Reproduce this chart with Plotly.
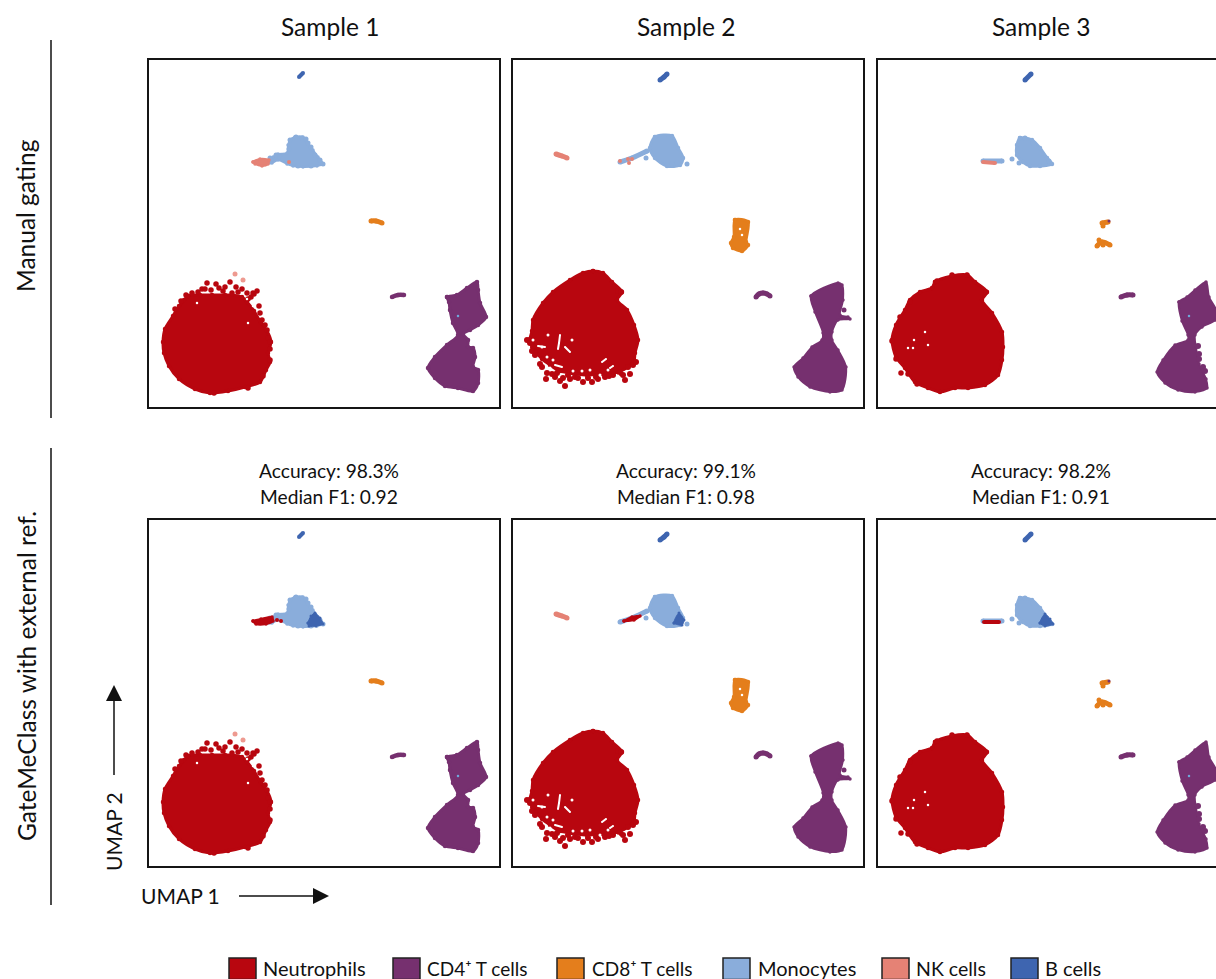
import plotly.graph_objects as go

W, H = 1216, 979
FONT = "Lato"

SAMPLES = ["Sample 1", "Sample 2", "Sample 3"]
ROW_LABELS = ["Manual gating", "GateMeClass with external ref."]
ACCURACY = ["Accuracy: 98.3%", "Accuracy: 99.1%", "Accuracy: 98.2%"]
MEDIAN_F1 = ["Median F1: 0.92", "Median F1: 0.98", "Median F1: 0.91"]
CELL_TYPES = ["Neutrophils", "CD4\u207a T cells", "CD8\u207a T cells", "Monocytes", "NK cells", "B cells"]
COLORS = ["#B8060F", "#76306F", "#E47E1C", "#8AADDB", "#E58275", "#3E65B0"]
NEUT, CD4, CD8, MONO, NK, BC = COLORS

# ---------- Sample 1 ----------
S1_NEUT = [(40,237),(52,236),(64,236),(77,236),(94,238),(99,243),(106,252),(113,264),(119,272),(123,283),(120,294),(122,303),(118,311),(112,323),(97,328),(80,332),(62,334),(47,330),(31,320),(21,307),(16,294),(15,283),(17,270),(25,257),(31,247),(36,241)]
S1_NEUT_DOTS = [(59,224),(54,230),(57,230),(68,225),(71,229),(82,223),(77,228),(88,228),(94,230),(84,234),(99,234),(105,234),(109,232),(112,254),(114,261),(50,233),(44,234),(122,301),(120,279),(119,271),(100,240),(103,238),(106,235),(75,232),(63,231),(90,233),(38,236),(33,242),(27,250),(111,247),(117,266),(122,290),(122,283),(115,317),(100,329),(66,334)]
S1_NEUT_HOLES = [(49,244),(100,264),(99,240),(105,247)]
S1_NK_PALE = [(87,215),(95,221)]
S1_CD4 = [(299,238),(309,236),(319,229),(329,223),(330,231),(332,244),(338,258),(330,266),(322,271),(315,275),(320,281),(320,288),(325,289),(327,298),(325,308),(330,311),(330,324),(325,332),(310,329),(297,327),(287,319),(280,309),(287,298),(299,286),(310,276),(305,264),(302,251),(301,243)]
S1_CD4_SMALL = [(244,238),(250,236),(256,236)]
S1_MONO = [(147,78),(155,78),(160,84),(165,91),(170,98),(175,105),(169,107),(155,108),(145,107),(139,105),(130,101),(124,104),(119,104),(125,98),(130,95),(139,94),(140,86),(142,81)]
S1_MONO_DOTS = [(142,81),(148,78),(154,79),(158,80),(160,84),(163,88),(167,96),(172,101),(175,105),(122,99),(128,96),(132,98),(135,100),(141,90),(150,107),(163,107)]
S1_NK = [(105,103),(112,100),(121,101),(120,105),(114,107),(107,105)]
S1_NK_DOT = [(141,103)]
S1_BC = [(151,18),(155,14)]
S1_CD8 = [(223,162),(228,162),(234,164)]
S1_B_RED = [(105,102),(113,100),(124,98),(125,102),(118,105),(108,105)]
S1_B_RED_DOTS = [(133,102),(129,101)]
S1_B_PATCH = [(160,104),(163,97),(167,94),(172,99),(175,105),(168,107),(161,107)]

# ---------- Sample 2 ----------
S2_NEUT = [(81,212),(91,214),(100,223),(110,233),(105,241),(115,251),(122,266),(126,281),(123,294),(122,302),(116,308),(106,313),(90,315),(75,316),(60,314),(48,312),(38,306),(30,300),(24,293),(20,285),(18,280),(20,272),(21,261),(31,244),(41,233),(58,221),(71,214)]
S2_NEUT_DOTS = [(15,281),(18,284),(21,288),(20,292),(23,296),(28,305),(35,314),(40,315),(34,320),(43,318),(48,322),(53,327),(51,319),(58,320),(63,318),(71,323),(80,323),(86,320),(93,318),(101,316),(113,321),(118,315),(121,306),(124,303),(116,308),(111,316),(106,232),(109,233),(30,308),(45,314),(56,316),(66,319),(76,319),(84,318),(97,317),(108,314)]
S2_NEUT_HOLES = [(30,288),(36,276),(60,281),(21,281),(35,298),(41,301),(70,312),(78,311),(96,311),(61,312),(38,309),(88,316),(106,317)]
S2_GAP_A = [(48,276),(47,284),(46,290)]
S2_GAP_B = [(26,287),(33,288)]
S2_GAP_C = [(53,288),(58,293)]
S2_GAP_D = [(43,306),(50,308)]
S2_GAP_E = [(90,303),(94,300)]
S2_GAP_F = [(98,309),(101,307)]
S2_CD4 = [(299,237),(326,224),(330,226),(331,241),(328,256),(336,258),(338,260),(326,261),(320,273),(320,281),(326,291),(334,308),(330,331),(318,333),(298,328),(286,318),(282,308),(291,299),(300,288),(310,281),(311,274),(303,253)]
S2_CD4_DOTS = [(332,251)]
S2_CD4_SMALL = [(244,238),(247,235),(251,234),(255,235),(258,237)]
S2_MONO = [(143,78),(160,77),(166,89),(171,99),(168,106),(155,107),(143,99),(138,89)]
S2_MONO_TAIL = [(108,103),(120,99),(135,92)]
S2_MONO_DOTS = [(175,105),(134,99),(165,104),(160,105),(155,106)]
S2_NK = [(44,95),(50,97),(55,99)]
S2_NK_DOTS = [(108,102),(117,104),(116,100),(120,100)]
S2_BC = [(148,21),(152,18),(155,15)]
S2_CD8 = [(223,161),(236,163),(234,183),(236,186),(230,192),(221,189),(219,184),(222,178)]
S2_CD8_HOLES = [(228,170),(230,176)]
S2_B_RED = [(112,102),(120,98),(128,97),(122,101)]
S2_B_PATCH = [(162,104),(167,94),(172,101),(170,106)]

# ---------- Sample 3 ----------
S3_NEUT = [(58,223),(75,217),(90,216),(98,223),(110,233),(105,241),(115,254),(125,273),(126,288),(125,301),(121,316),(108,326),(91,329),(78,329),(63,333),(51,329),(38,323),(28,309),(19,298),(15,281),(19,266),(28,251),(33,241),(43,233),(55,229)]
S3_NEUT_DOTS = [(24,314),(15,282),(90,216),(109,233),(75,216),(60,222),(33,243),(23,258),(19,300),(31,315),(40,325)]
S3_NEUT_HOLES = [(48,273),(37,281),(36,289),(51,286),(31,289)]
S3_CD4 = [(302,243),(310,238),(318,231),(329,223),(332,238),(339,251),(338,261),(325,268),(318,276),(319,289),(322,305),(329,320),(330,329),(318,333),(301,331),(288,324),(280,313),(286,301),(298,286),(311,281),(311,276),(305,262)]
S3_CD4_DOTS = [(321,287),(322,295),(322,300),(326,308),(328,312)]
S3_CD4_SMALL = [(244,238),(250,236),(256,236)]
S3_MONO = [(143,79),(155,81),(163,89),(170,99),(175,105),(163,107),(153,107),(146,103),(140,96),(140,86)]
S3_MONO_TAIL = [(106,102),(125,102)]
S3_MONO_DOTS = [(135,100),(142,104),(148,79),(156,84),(172,102)]
S3_NK = [(106,103),(118,104)]
S3_BC = [(148,21),(154,15)]
S3_CD8_UP = [(225,164),(231,163)]
S3_CD8_UP_DOTS = [(226,167)]
S3_CD8_LOW = [(220,187),(225,183),(233,186)]
S3_CD8_LOW_DOTS = [(222,181),(226,186)]
S3_CD4_IN_CD8 = [(232,162)]
S3_B_RED = [(107,103),(122,103)]
S3_B_PATCH = [(163,104),(168,95),(173,100),(176,105),(168,107)]
CD4_MONO_DOT_S1 = [(310,257)]
CD4_MONO_DOT_S3 = [(312,257)]

# ---------- panel frames in pixels ----------
PANELS_X = [(148, 500), (512, 864), (877, 1216)]
PANELS_Y = [(59, 408), (519, 867)]

fig = go.Figure()


def poly(ax, pts, color, width=3):
    xs = [p[0] for p in pts] + [pts[0][0]]
    ys = [p[1] for p in pts] + [pts[0][1]]
    fig.add_trace(go.Scatter(x=xs, y=ys, xaxis=f"x{ax}", yaxis=f"y{ax}", mode="lines+markers", fill="toself",
                             fillcolor=color, line=dict(color=color, width=width, shape="spline", smoothing=0.8),
                             marker=dict(color=color, size=max(width + 1.5, 3), line=dict(width=0)),
                             hoverinfo="skip"))


def dots(ax, pts, color, size=5.5):
    fig.add_trace(go.Scatter(x=[p[0] for p in pts], y=[p[1] for p in pts], xaxis=f"x{ax}", yaxis=f"y{ax}",
                             mode="markers", marker=dict(color=color, size=size, line=dict(width=0)), hoverinfo="skip"))


def stroke(ax, pts, color, width=5):
    fig.add_trace(go.Scatter(x=[p[0] for p in pts], y=[p[1] for p in pts], xaxis=f"x{ax}", yaxis=f"y{ax}",
                             mode="lines+markers", line=dict(color=color, width=width, shape="spline"),
                             marker=dict(color=color, size=width, line=dict(width=0)), hoverinfo="skip"))


for row in range(2):
    # Sample 1
    ax = row * 3 + 1
    poly(ax, S1_NEUT, NEUT)
    dots(ax, S1_NEUT_DOTS, NEUT)
    dots(ax, S1_NEUT_HOLES, "white", 2.5)
    dots(ax, S1_NK_PALE, "#EE9A90", 5)
    poly(ax, S1_CD4, CD4)
    stroke(ax, S1_CD4_SMALL, CD4, 4.5)
    poly(ax, S1_MONO, MONO, 2)
    dots(ax, S1_MONO_DOTS, MONO, 5)
    stroke(ax, S1_CD8, CD8, 5)
    stroke(ax, S1_BC, BC, 4)
    dots(ax, CD4_MONO_DOT_S1, "#6FA8DC", 2.5)
    if row == 0:
        poly(ax, S1_NK, NK, 2)
        dots(ax, S1_NK_DOT, NK, 4)
    else:
        poly(ax, S1_B_RED, NEUT, 2)
        dots(ax, S1_B_RED_DOTS, NEUT, 4)
        poly(ax, S1_B_PATCH, BC, 1)

    # Sample 2
    ax = row * 3 + 2
    poly(ax, S2_NEUT, NEUT)
    dots(ax, S2_NEUT_DOTS, NEUT, 6)
    dots(ax, S2_NEUT_HOLES, "white", 3)
    for gap in (S2_GAP_A, S2_GAP_B, S2_GAP_C, S2_GAP_D, S2_GAP_E, S2_GAP_F):
        stroke(ax, gap, "white", 2)
    poly(ax, S2_CD4, CD4, 2)
    dots(ax, S2_CD4_DOTS, CD4, 5)
    stroke(ax, S2_CD4_SMALL, CD4, 5)
    poly(ax, S2_MONO, MONO)
    stroke(ax, S2_MONO_TAIL, MONO, 5)
    dots(ax, S2_MONO_DOTS, MONO, 5)
    stroke(ax, S2_NK, NK, 5)
    stroke(ax, S2_BC, BC, 5)
    poly(ax, S2_CD8, CD8)
    dots(ax, S2_CD8_HOLES, "white", 2.5)
    if row == 0:
        dots(ax, S2_NK_DOTS, NK, 4)
    else:
        poly(ax, S2_B_RED, NEUT, 2)
        poly(ax, S2_B_PATCH, BC, 1)

    # Sample 3
    ax = row * 3 + 3
    poly(ax, S3_NEUT, NEUT)
    dots(ax, S3_NEUT_DOTS, NEUT)
    dots(ax, S3_NEUT_HOLES, "white", 2.5)
    poly(ax, S3_CD4, CD4, 2)
    dots(ax, S3_CD4_DOTS, CD4, 6)
    stroke(ax, S3_CD4_SMALL, CD4, 5)
    poly(ax, S3_MONO, MONO)
    stroke(ax, S3_MONO_TAIL, MONO, 5)
    dots(ax, S3_MONO_DOTS, MONO, 5)
    stroke(ax, S3_BC, BC, 5)
    stroke(ax, S3_CD8_UP, CD8, 5)
    dots(ax, S3_CD8_UP_DOTS, CD8, 5)
    stroke(ax, S3_CD8_LOW, CD8, 5)
    dots(ax, S3_CD8_LOW_DOTS, CD8, 5)
    dots(ax, S3_CD4_IN_CD8, CD4, 3)
    dots(ax, CD4_MONO_DOT_S3, "#6FA8DC", 2.5)
    if row == 0:
        stroke(ax, S3_NK, NK, 4)
    else:
        stroke(ax, S3_B_RED, NEUT, 4)
        poly(ax, S3_B_PATCH, BC, 1)

layout = dict(
    width=W, height=H, margin=dict(l=0, r=0, t=0, b=0), autosize=False,
    paper_bgcolor="white", plot_bgcolor="white", showlegend=False,
    font=dict(family=FONT, color="#111111"),
)
AX_COMMON = dict(showgrid=False, zeroline=False, showticklabels=False, ticks="", showline=True,
                 linecolor="#151515", linewidth=2)
for r, (top, bottom) in enumerate(PANELS_Y):
    for c, (left, right) in enumerate(PANELS_X):
        n = r * 3 + c + 1
        inner_r = right - 1 if c < 2 else right
        layout[f"xaxis{n}"] = dict(domain=[(left + 1) / W, inner_r / W], range=[1, inner_r - left], mirror=True,
                                   anchor=f"y{n}", **AX_COMMON)
        layout[f"yaxis{n}"] = dict(domain=[1 - (bottom - 1) / H, 1 - (top + 1) / H], range=[bottom - top - 1, 1],
                                   mirror=(c < 2), anchor=f"x{n}", **AX_COMMON)
fig.update_layout(**layout)


def px(x):
    return x / W


def py(y):
    return 1 - y / H


def text(x, y, s, size, angle=0, xanchor="center", yanchor="middle"):
    fig.add_annotation(x=px(x), y=py(y), xref="paper", yref="paper", text=s, showarrow=False, textangle=angle,
                       font=dict(size=size, family=FONT, color="#111111"), xanchor=xanchor, yanchor=yanchor,
                       align="center")


def line(x0, y0, x1, y1, width=1.5):
    fig.add_shape(type="line", xref="paper", yref="paper", x0=px(x0), y0=py(y0), x1=px(x1), y1=py(y1),
                  line=dict(color="#111111", width=width))


def tri(p1, p2, p3):
    path = f"M {px(p1[0])} {py(p1[1])} L {px(p2[0])} {py(p2[1])} L {px(p3[0])} {py(p3[1])} Z"
    fig.add_shape(type="path", xref="paper", yref="paper", path=path, fillcolor="#111111", line=dict(width=0))


for s, cx in zip(SAMPLES, [330, 685.5, 1041]):
    text(cx, 27, s, 24.5)
for a, m, cx in zip(ACCURACY, MEDIAN_F1, [329, 685.5, 1041]):
    text(cx, 470, a, 19.2)
    text(cx, 497, m, 19.2)
text(26, 216, ROW_LABELS[0], 24.5, -90)
text(26, 676, ROW_LABELS[1], 24.5, -90)
line(51, 40, 51, 418)
line(51, 448, 51, 905)

text(113, 832, "UMAP 2", 21, -90)
text(180, 895, "UMAP 1", 21)
line(114, 775, 114, 698)
tri((114, 685), (106, 701), (122, 701))
line(239, 896, 316, 896)
tri((329, 896), (313, 888), (313, 904))

SWATCH_X = [229, 393, 557, 723, 882, 1011]
LABEL_X = [261, 425, 590, 756, 914, 1043]
LABEL_SIZE = [20, 19, 19, 20, 19.5, 20]
for name, color, sx, lx, ls in zip(CELL_TYPES, COLORS, SWATCH_X, LABEL_X, LABEL_SIZE):
    fig.add_shape(type="rect", xref="paper", yref="paper", x0=px(sx), x1=px(sx + 27), y0=py(958), y1=py(979.5),
                  fillcolor=color, line=dict(color="#222222", width=1.5))
    text(lx, 968, name, ls, xanchor="left")

fig.write_html("out.html", config=dict(displayModeBar=False),
               post_script="document.body.style.margin='0';document.body.style.overflow='hidden';")
